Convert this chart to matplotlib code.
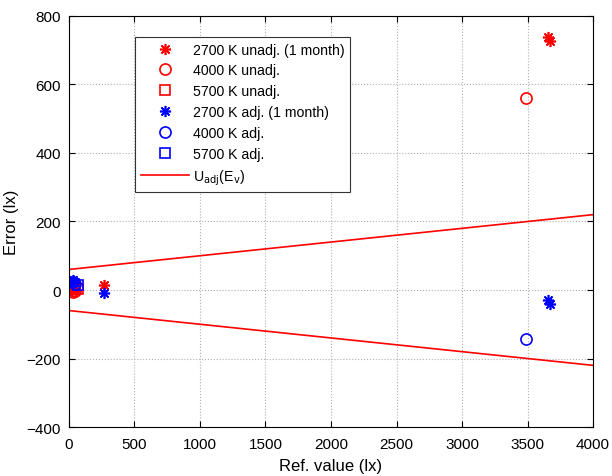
import matplotlib
matplotlib.use('Agg')
import matplotlib.pyplot as plt
import numpy as np

plt.rcParams['font.family'] = ['Liberation Sans', 'DejaVu Sans']

# 2700 K (1 month)
x_2700 = [10, 20, 30, 45, 270, 3660, 3670]
y_2700_unadj = [0, -4, 4, -2, 15, 738, 728]
y_2700_adj = [26, 20, 28, 22, -10, -30, -40]

# 4000 K
x_4000 = [30, 45, 3490]
y_4000_unadj = [-5, -3, 562]
y_4000_adj = [22, 18, -143]

# 5700 K
x_5700 = [70]
y_5700_unadj = [3]
y_5700_adj = [15]

# uncertainty band U_adj(E_v) = a + b*E
u_x = [0, 4000]
u_y = [60, 220]

fig = plt.figure(figsize=(6.12, 4.77), dpi=100)
ax = fig.add_axes([0.1127, 0.1027, 0.8563, 0.8617])

star = (8, 2, 0)
ax.plot(x_2700, y_2700_unadj, linestyle='none', marker=star, color='red', markersize=8, mew=1.2,
        label='2700 K unadj. (1 month)')
ax.plot(x_4000, y_4000_unadj, linestyle='none', marker='o', mfc='none', mec='red', markersize=8, mew=1.2,
        label='4000 K unadj.')
ax.plot(x_5700, y_5700_unadj, linestyle='none', marker='s', mfc='none', mec='red', markersize=7, mew=1.2,
        label='5700 K unadj.')
ax.plot(x_2700, y_2700_adj, linestyle='none', marker=star, color='blue', markersize=8, mew=1.2,
        label='2700 K adj. (1 month)')
ax.plot(x_4000, y_4000_adj, linestyle='none', marker='o', mfc='none', mec='blue', markersize=8, mew=1.2,
        label='4000 K adj.')
ax.plot(x_5700, y_5700_adj, linestyle='none', marker='s', mfc='none', mec='blue', markersize=7, mew=1.2,
        label='5700 K adj.')
ax.plot(u_x, u_y, color='red', linewidth=1.2, label=r'U$_{\mathrm{adj}}$(E$_{\mathrm{v}}$)')
ax.plot(u_x, [-v for v in u_y], color='red', linewidth=1.2)

ax.set_xlim(0, 4000)
ax.set_ylim(-400, 800)
ax.set_xticks(np.arange(0, 4001, 500))
ax.set_yticks(np.arange(-400, 801, 200))
ax.grid(True, linestyle=':', color='#b0b0b0', linewidth=0.8)
ax.tick_params(direction='in', top=True, right=True, labelsize=11, length=4)
ax.tick_params(axis='x', pad=7)
ax.tick_params(axis='y', pad=6)
for s in ax.spines.values():
    s.set_linewidth(0.8)

ax.set_xlabel('Ref. value (lx)', fontsize=12, labelpad=5)
ax.set_ylabel('Error (lx)', fontsize=12, labelpad=5)

leg = ax.legend(loc='upper left', bbox_to_anchor=(0.126, 0.949), borderaxespad=0,
                fontsize=10.2, fancybox=False, framealpha=1, edgecolor='#333333',
                handlelength=3.4, handletextpad=0.3, labelspacing=0.48)
leg.get_frame().set_linewidth(0.8)

fig.savefig('out.png', dpi=100)
